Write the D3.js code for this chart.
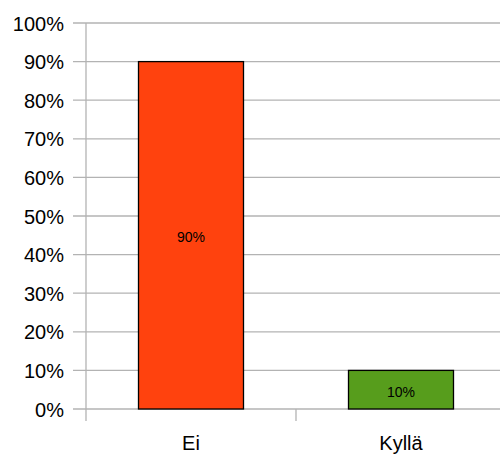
<!DOCTYPE html>
<html>
<head>
<meta charset="utf-8">
<script src="https://cdn.jsdelivr.net/npm/d3@7"></script>
<style>
  body { margin: 0; background: #fff; }
  text { font-family: "Liberation Sans", Arial, sans-serif; }
</style>
</head>
<body>
<script>
// Chart data
var categories = ["Ei", "Kyllä"];
var values = [0.90, 0.10];
var barColors = ["#ff420e", "#579d1c"];
var yTicks = [0, 0.1, 0.2, 0.3, 0.4, 0.5, 0.6, 0.7, 0.8, 0.9, 1.0];

var width = 500,
    height = 455;
var margin = {left: 86, right: -6, top: 23, bottom: 46};

var svg = d3.select("body").append("svg")
    .attr("width", width)
    .attr("height", height);

// Scales
var x = d3.scaleBand()
    .domain(categories)
    .range([margin.left, width - margin.right])
    .paddingInner(0.5)
    .paddingOuter(0.25);

var y = d3.scaleLinear()
    .domain([0, 1])
    .range([height - margin.bottom, margin.top]);

// Horizontal gridlines with tick marks running out to the left
svg.append("g")
    .selectAll("line")
    .data(yTicks)
    .enter()
    .append("line")
    .attr("x1", margin.left - 13)
    .attr("x2", width)
    .attr("y1", d => y(d))
    .attr("y2", d => y(d))
    .attr("stroke", "#b3b3b3")
    .attr("stroke-width", 1.3);

// Y axis labels
svg.append("g")
    .selectAll("text")
    .data(yTicks)
    .enter()
    .append("text")
    .attr("x", 64)
    .attr("y", d => y(d))
    .attr("dy", "0.38em")
    .attr("text-anchor", "end")
    .attr("font-size", "20px")
    .attr("fill", "#000")
    .text(d => d3.format(".0%")(d));

// Vertical axis line
svg.append("line")
    .attr("x1", margin.left)
    .attr("x2", margin.left)
    .attr("y1", y(1))
    .attr("y2", y(0) + 12)
    .attr("stroke", "#b3b3b3")
    .attr("stroke-width", 1.3);

// Category separator ticks on the x axis
var step = x.step();
svg.append("g")
    .selectAll("line")
    .data(categories)
    .enter()
    .append("line")
    .attr("x1", d => x(d) - step * 0.25 + step)
    .attr("x2", d => x(d) - step * 0.25 + step)
    .attr("y1", y(0))
    .attr("y2", y(0) + 12)
    .attr("stroke", "#b3b3b3")
    .attr("stroke-width", 1.3);

// Bars
svg.append("g")
    .selectAll("rect")
    .data(values)
    .enter()
    .append("rect")
    .attr("x", (d, i) => x(categories[i]))
    .attr("y", d => y(d))
    .attr("width", x.bandwidth())
    .attr("height", d => y(0) - y(d))
    .attr("fill", (d, i) => barColors[i])
    .attr("stroke", "#000")
    .attr("stroke-width", 1.3);

// Value labels in the middle of the bars
svg.append("g")
    .selectAll("text")
    .data(values)
    .enter()
    .append("text")
    .attr("x", (d, i) => x(categories[i]) + x.bandwidth() / 2)
    .attr("y", d => (y(d) + y(0)) / 2 + 2)
    .attr("dy", "0.36em")
    .attr("text-anchor", "middle")
    .attr("font-size", "14px")
    .attr("fill", "#000")
    .text(d => d3.format(".0%")(d));

// Category labels
svg.append("g")
    .selectAll("text")
    .data(categories)
    .enter()
    .append("text")
    .attr("x", d => x(d) + x.bandwidth() / 2)
    .attr("y", 450)
    .attr("text-anchor", "middle")
    .attr("font-size", "20px")
    .attr("fill", "#000")
    .text(d => d);
</script>
</body>
</html>
